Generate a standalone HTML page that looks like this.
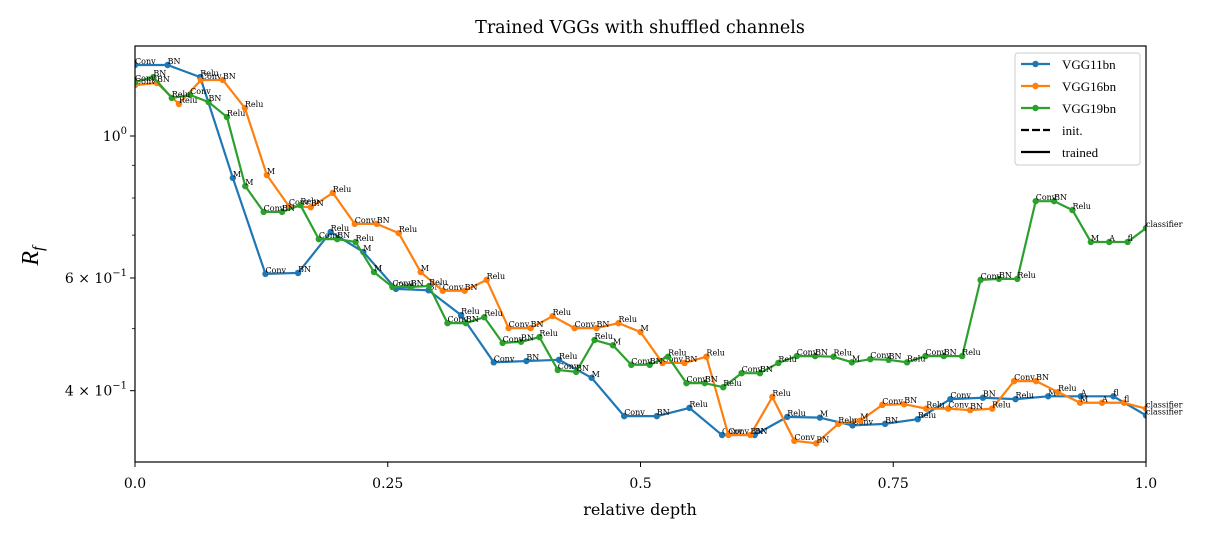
<!DOCTYPE html>
<html><head><meta charset="utf-8"><style>
html,body{margin:0;padding:0;background:#fff;}
svg{display:block;font-family:"Liberation Serif","DejaVu Serif",serif;}
.dv{font-family:"DejaVu Serif","Liberation Serif",serif;}
</style></head><body>
<svg id="chart" width="1214" height="539" viewBox="0 0 1214 539" xmlns="http://www.w3.org/2000/svg"></svg>
<script>
const vgg11Layers = ["Conv","BN","Relu","M","Conv","BN","Relu","M","Conv","BN","Relu","Conv","BN","Relu","M","Conv","BN","Relu","Conv","BN","Relu","M","Conv","BN","Relu","Conv","BN","Relu","M","A","fl","classifier"];
const vgg11Values = [1.291,1.291,1.236,0.860,0.609,0.611,0.708,0.659,0.577,0.574,0.525,0.443,0.445,0.447,0.419,0.365,0.365,0.376,0.341,0.341,0.364,0.363,0.353,0.355,0.361,0.388,0.390,0.388,0.392,0.392,0.392,0.366];
const vgg16Layers = ["Conv","BN","Relu","Conv","BN","Relu","M","Conv","BN","Relu","Conv","BN","Relu","M","Conv","BN","Relu","Conv","BN","Relu","Conv","BN","Relu","M","Conv","BN","Relu","Conv","BN","Relu","Conv","BN","Relu","M","Conv","BN","Relu","Conv","BN","Relu","Conv","BN","Relu","M","A","fl","classifier"];
const vgg16Values = [1.201,1.210,1.122,1.223,1.223,1.106,0.869,0.777,0.774,0.815,0.729,0.729,0.705,0.613,0.573,0.573,0.596,0.501,0.501,0.523,0.501,0.501,0.510,0.494,0.442,0.442,0.452,0.341,0.341,0.391,0.334,0.331,0.355,0.359,0.380,0.381,0.375,0.375,0.373,0.375,0.414,0.414,0.398,0.383,0.383,0.383,0.375];
const vgg19Layers = ["Conv","BN","Relu","Conv","BN","Relu","M","Conv","BN","Relu","Conv","BN","Relu","M","Conv","BN","Relu","Conv","BN","Relu","Conv","BN","Relu","Conv","BN","Relu","M","Conv","BN","Relu","Conv","BN","Relu","Conv","BN","Relu","Conv","BN","Relu","M","Conv","BN","Relu","Conv","BN","Relu","Conv","BN","Relu","Conv","BN","Relu","M","A","fl","classifier"];
const vgg19Values = [1.214,1.236,1.147,1.159,1.130,1.071,0.835,0.761,0.761,0.780,0.690,0.690,0.683,0.613,0.581,0.581,0.583,0.510,0.510,0.521,0.475,0.477,0.485,0.431,0.428,0.480,0.471,0.439,0.439,0.452,0.411,0.411,0.405,0.426,0.426,0.442,0.453,0.453,0.452,0.443,0.448,0.447,0.443,0.453,0.453,0.453,0.596,0.598,0.598,0.791,0.791,0.766,0.683,0.683,0.683,0.718];
const xTicks = [0, 0.25, 0.5, 0.75, 1.0];
const xTickLabels = ["0.0","0.25","0.5","0.75","1.0"];
const yMajor = [1.0, 0.6, 0.4];
const yMinor = [0.9, 0.8, 0.7, 0.5];

const NS="http://www.w3.org/2000/svg";
const svg=document.getElementById('chart');
const L=135,R=1146,T=46,B=462;
function xs(d){return L+(R-L)*d;}
function ys(v){return 136-640*Math.log10(v);}
function mk(tag,attrs,parent){const e=document.createElementNS(NS,tag);for(const k in attrs)e.setAttribute(k,attrs[k]);(parent||svg).appendChild(e);return e;}

const title=mk('text',{x:640,y:33,'text-anchor':'middle','font-size':17.5,class:'dv'});
title.textContent='Trained VGGs with shuffled channels';



xTicks.forEach((t,i)=>{
  const tk=mk('line',{x1:xs(t),x2:xs(t),y1:B,y2:B+5,stroke:'#000','stroke-width':1});
  
  
  const tl=mk('text',{x:xs(t),y:B+26,'text-anchor':'middle','font-size':14,class:'dv'});
  tl.textContent=xTickLabels[i];
  
  
});
yMajor.forEach(v=>{
  const y=ys(v);
  const tk=mk('line',{x1:L-5,x2:L,y1:y,y2:y,stroke:'#000','stroke-width':1});
  
  
  const tl=mk('text',{x:L-8,y:y+5,'text-anchor':'end','font-size':14,class:'dv'});
  
  
  if(v===1.0){tl.innerHTML='10<tspan dy="-7" font-size="10">0</tspan>';}
  else{const m=Math.round(v*10);tl.innerHTML=m+' × 10<tspan dy="-7" font-size="10">−1</tspan>';}
});
yMinor.forEach(v=>{
  const y=ys(v);
  const tk=mk('line',{x1:L-3,x2:L,y1:y,y2:y,stroke:'#000','stroke-width':0.8});
  
  
});

const xl=mk('text',{x:640,y:515,'text-anchor':'middle','font-size':16,class:'dv'});
xl.textContent='relative depth';


const yl=mk('text',{x:38,y:256,'text-anchor':'middle','font-size':24,'font-style':'italic',transform:'rotate(-90 38 256)'});
yl.innerHTML='R<tspan dy="5" font-size="16">f</tspan>';



const clip=mk('clipPath',{id:'pc'});
mk('rect',{x:L,y:T,width:R-L,height:B-T},clip);

function series(layers,values,color,name){
  const g=mk('g',{'clip-path':'url(#pc)'});
  
  
  const n=values.length;
  const pts=values.map((v,i)=>[xs(i/(n-1)),ys(v)]);
  const pl=mk('polyline',{points:pts.map(p=>p.join(',')).join(' '),fill:'none',stroke:color,'stroke-width':2.2,'stroke-linejoin':'round'},g);
  
  
  pts.forEach((p,i)=>{
    const c=mk('circle',{cx:p[0],cy:p[1],r:3.2,fill:color},g);
    
    
  });
  const tg=mk('g',{});
  
  
  pts.forEach((p,i)=>{
    const t=mk('text',{x:p[0],y:p[1]-1,'font-size':8,class:'dv'},tg);
    t.textContent=layers[i];
    
    
  });
}
series(vgg11Layers,vgg11Values,'#1f77b4','vgg11bn');
series(vgg16Layers,vgg16Values,'#ff7f0e','vgg16bn');
series(vgg19Layers,vgg19Values,'#2ca02c','vgg19bn');

const frame=mk('rect',{x:L,y:T,width:R-L,height:B-T,fill:'none',stroke:'#000','stroke-width':1.2});



const lg=mk('g',{});


const lb=mk('rect',{x:1015,y:53,width:125,height:112,rx:3,fill:'#fff','fill-opacity':0.85,stroke:'#ccc'},lg);


const entries=[['VGG11bn','#1f77b4','solid',true],['VGG16bn','#ff7f0e','solid',true],['VGG19bn','#2ca02c','solid',true],['init.','#000','dash',false],['trained','#000','solid',false]];
entries.forEach((e,i)=>{
  const y=64+i*22;
  const eg=mk('g',{},lg);
  
  
  const ln=mk('line',{x1:1021,x2:1050,y1:y,y2:y,stroke:e[1],'stroke-width':2.2},eg);
  if(e[2]==='dash')ln.setAttribute('stroke-dasharray','8 3');
  if(e[3])mk('circle',{cx:1035.5,cy:y,r:3.2,fill:e[1]},eg);
  const t=mk('text',{x:1062,y:y+5,'font-size':13},eg);
  t.textContent=e[0];
});
</script>
</body></html>
